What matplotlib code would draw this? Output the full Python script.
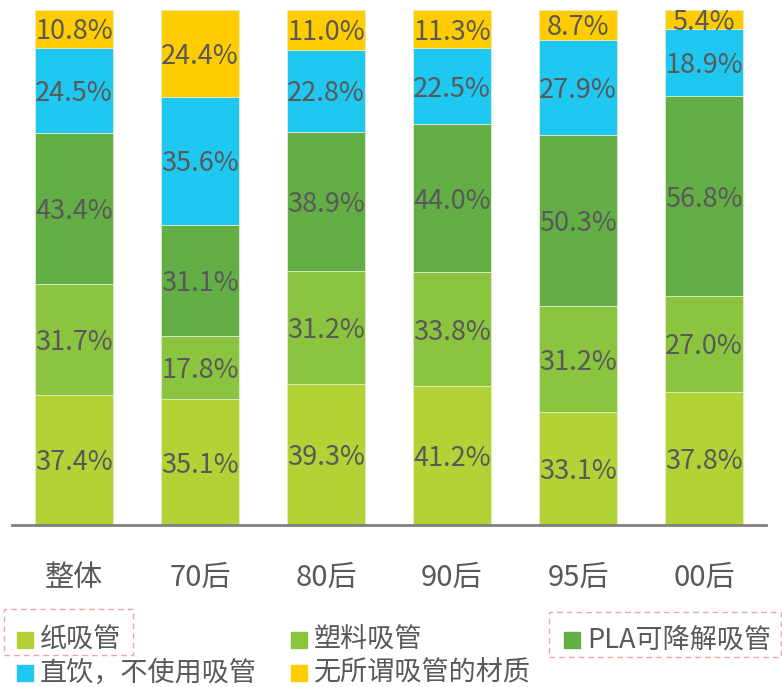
import matplotlib.pyplot as plt
from matplotlib.patches import Rectangle
from matplotlib.transforms import offset_copy
import numpy as np

plt.rcParams['font.family'] = ['Noto Sans CJK SC', 'DejaVu Sans']

groups = ['整体', '70后', '80后', '90后', '95后', '00后']
series = ['纸吸管', '塑料吸管', 'PLA可降解吸管', '直饮，不使用吸管', '无所谓吸管的材质']
paper = [37.4, 35.1, 39.3, 41.2, 33.1, 37.8]
plastic = [31.7, 17.8, 31.2, 33.8, 31.2, 27.0]
pla = [43.4, 31.1, 38.9, 44.0, 50.3, 56.8]
no_straw = [24.5, 35.6, 22.8, 22.5, 27.9, 18.9]
any_material = [10.8, 24.4, 11.0, 11.3, 8.7, 5.4]
colors = ['#B3D236', '#8BC53F', '#63AE45', '#1FC8F1', '#FFCC00']
text_color = '#595959'

W, H = 782, 687
fig = plt.figure(figsize=(W / 100, H / 100), dpi=100)
ax = fig.add_axes([12 / W, (H - 525) / H, 754 / W, 515 / H])

data = np.array([paper, plastic, pla, no_straw, any_material])
# multiple-choice answers: each bar is scaled to full height
share = data / data.sum(axis=0)
x = np.arange(len(groups))
bottom = np.zeros(len(groups))
label_tr = offset_copy(ax.transData, fig=fig, y=-3, units='dots')
for vals, frac, c in zip(data, share, colors):
    ax.bar(x, frac, 0.62, bottom=bottom, color=c, edgecolor='#dfeecb', linewidth=0.6)
    for xi, b, f, v in zip(x, bottom, frac, vals):
        ax.text(xi, b + f / 2, f'{v:.1f}%', ha='center', va='center',
                fontsize=19.5, color=text_color, transform=label_tr)
    bottom += frac

ax.set_xlim(-0.492, 5.492)
ax.set_ylim(0, 1)
ax.set_yticks([])
ax.set_xticks(x)
ax.set_xticklabels(groups, fontsize=21, color=text_color)
ax.tick_params(axis='x', length=0, pad=27)
for s in ['top', 'right', 'left']:
    ax.spines[s].set_visible(False)
ax.spines['bottom'].set_color('#808080')
ax.spines['bottom'].set_linewidth(2)

# legend drawn by hand in pixel positions
legend_pos = [(17, 640), (291, 640), (564, 640), (17, 673), (291, 673)]
for (px, py), label, c in zip(legend_pos, series, colors):
    fig.patches.append(Rectangle((px / W, (H - py - 8) / H), 16 / W, 16 / H,
                                 transform=fig.transFigure, color=c))
    fig.text((px + 23) / W, (H - py) / H, label, fontsize=19.5, color=text_color,
             va='center', ha='left')

for (x0, y0, x1, y1) in [(4, 609, 133, 655), (549, 612, 781, 657)]:
    fig.patches.append(Rectangle((x0 / W, (H - y1) / H), (x1 - x0) / W, (y1 - y0) / H,
                                 transform=fig.transFigure, fill=False,
                                 edgecolor='#F4A3AA', linestyle=(0, (4, 3)), linewidth=1))

fig.savefig('out.png', dpi=100)
